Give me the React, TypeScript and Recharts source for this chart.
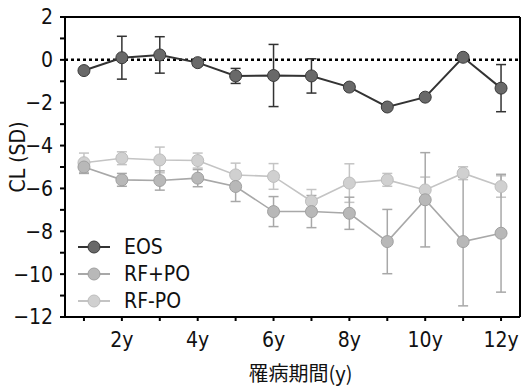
import { LineChart, Line, XAxis, YAxis, ErrorBar, ReferenceLine } from 'recharts';

const years = [1, 2, 3, 4, 5, 6, 7, 8, 9, 10, 11, 12];
const eos = [-0.5, 0.1, 0.23, -0.13, -0.75, -0.73, -0.75, -1.27, -2.2, -1.74, 0.12, -1.32];
const eosErr = [0, 1.0, 0.85, 0.15, 0.35, 1.45, 0.8, 0.15, 0, 0, 0, 1.1];
const rfPlus = [-5.0, -5.6, -5.63, -5.52, -5.91, -7.08, -7.08, -7.16, -8.48, -6.53, -8.48, -8.09];
const rfPlusErr = [0.3, 0.3, 0.45, 0.4, 0.7, 0.7, 0.75, 0.75, 1.5, 2.2, 3.0, 2.75];
const rfMinus = [-4.8, -4.59, -4.67, -4.7, -5.37, -5.44, -6.6, -5.75, -5.6, -6.07, -5.29, -5.91];
const rfMinusErr = [0.45, 0.3, 0.6, 0.35, 0.55, 0.6, 0.55, 0.9, 0.3, 0.6, 0.3, 0.5];

const xTicks = years;
const yTicks = [-12, -11, -10, -9, -8, -7, -6, -5, -4, -3, -2, -1, 0, 1, 2];

const data = years.map((year, i) => ({
  year,
  eos: eos[i],
  eosErr: eosErr[i],
  rfPlus: rfPlus[i],
  rfPlusErr: rfPlusErr[i],
  rfMinus: rfMinus[i],
  rfMinusErr: rfMinusErr[i],
}));

const FONT = "'Liberation Sans Narrow', 'DejaVu Sans Condensed', 'Liberation Sans', 'Noto Sans CJK JP', sans-serif";
const JP_FONT = "'Noto Sans CJK JP', 'Liberation Sans', sans-serif";

const SERIES = [
  { key: 'eos', name: 'EOS', fill: '#696969', stroke: '#3a3a3a', line: '#333333' },
  { key: 'rfPlus', name: 'RF+PO', fill: '#b8b8b8', stroke: '#a0a0a0', line: '#a8a8a8' },
  { key: 'rfMinus', name: 'RF-PO', fill: '#d0d0d0', stroke: '#bdbdbd', line: '#c4c4c4' },
];

function LegendBox() {
  return (
    <div style={{ position: 'absolute', left: 76, top: 233, fontFamily: FONT, fontSize: 21, color: '#111' }}>
      {SERIES.map((s) => (
        <div key={s.key} style={{ display: 'flex', alignItems: 'center', height: 27 }}>
          <svg width={36} height={16}>
            <line x1={2} y1={8} x2={34} y2={8} stroke={s.line} strokeWidth={2} />
            <circle cx={18} cy={8} r={6} fill={s.fill} stroke={s.stroke} />
          </svg>
          <span style={{ marginLeft: 12, lineHeight: '20px' }}>{s.name}</span>
        </div>
      ))}
    </div>
  );
}

const yFmt = (v: number) => (v % 2 === 0 ? (v < 0 ? `\u2212${-v}` : `${v}`) : '');
const xFmt = (v: number) => (v % 2 === 0 ? `${v}y` : '');

export default function App() {
  return (
    <div style={{ position: 'absolute', left: 0, top: 0, width: 526, height: 388, background: '#fff' }}>
      <LineChart width={526} height={388} data={data} margin={{ top: 17, right: 6, bottom: 0, left: 0 }}>
        <XAxis
          dataKey="year"
          type="number"
          domain={[0.5, 12.5]}
          ticks={xTicks}
          tickFormatter={xFmt}
          interval={0}
          height={71}
          stroke="#000"
          strokeWidth={2}
          tickSize={4}
          tickMargin={11}
          tick={{ fill: '#111', fontSize: 21, fontFamily: FONT }}
          label={{ value: '罹病期間(y)', position: 'insideBottom', offset: 7, dx: 8, fill: '#111', fontSize: 20, fontFamily: JP_FONT }}
        />
        <YAxis
          type="number"
          domain={[-12, 2]}
          ticks={yTicks}
          tickFormatter={yFmt}
          interval={0}
          width={65}
          stroke="#000"
          strokeWidth={2}
          tickSize={5}
          tickMargin={7}
          tick={{ fill: '#111', fontSize: 21, fontFamily: FONT }}
          label={(props: any) => {
            const vb = props.viewBox || { x: 0, y: 17, width: 65, height: 300 };
            const cx = vb.x + 18;
            const cy = vb.y + vb.height / 2 - 10;
            return (
              <text
                x={cx}
                y={cy}
                transform={`rotate(-90, ${cx}, ${cy})`}
                textAnchor="middle"
                dominantBaseline="central"
                fill="#111"
                fontSize={21}
                fontFamily={FONT}
              >
                CL (SD)
              </text>
            );
          }}
        />
        <ReferenceLine y={2} stroke="#000" strokeWidth={2} />
        <ReferenceLine x={12.5} stroke="#000" strokeWidth={2} />
        <ReferenceLine y={0} stroke="#000" strokeWidth={2.5} strokeDasharray="3 3" />
        {SERIES.slice().reverse().map((s) => (
          <Line
            key={s.key}
            dataKey={s.key}
            name={s.name}
            stroke={s.line}
            strokeWidth={s.key === 'eos' ? 2 : 1.6}
            dot={{ r: 6, fill: s.fill, stroke: s.stroke, strokeWidth: 1 }}
            activeDot={false}
            isAnimationActive={false}
          >
            <ErrorBar dataKey={`${s.key}Err`} width={5} stroke={s.key === 'eos' ? '#333' : s.line} strokeWidth={1.5} />
          </Line>
        ))}
      </LineChart>
      <LegendBox />
    </div>
  );
}
